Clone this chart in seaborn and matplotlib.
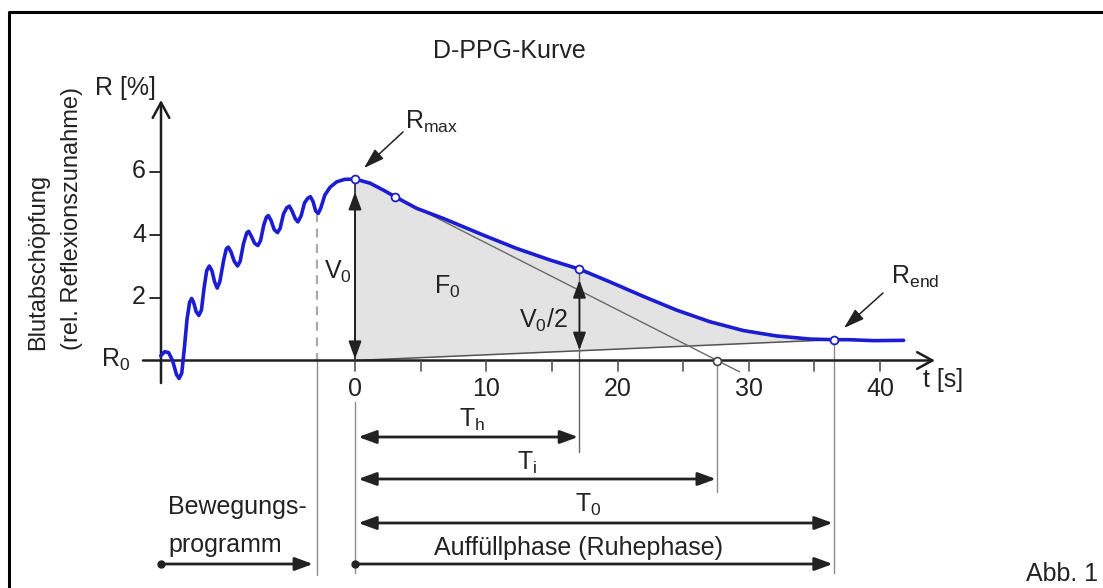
import numpy as np
import pandas as pd
import seaborn as sns
import matplotlib
matplotlib.use("Agg")
import matplotlib.pyplot as plt

# ---------------- data ----------------
t_rise = [-14.8, -14.5, -14.2, -13.9, -13.6, -13.4, -13.2, -13.0, -12.8, -12.6,
          -12.45, -12.3, -12.1, -11.9, -11.7, -11.5, -11.3, -11.1, -10.9, -10.7,
          -10.5, -10.3, -10.0, -9.8, -9.65, -9.45, -9.2, -8.95, -8.75, -8.5,
          -8.25, -8.1, -7.9, -7.65, -7.4, -7.2, -6.95, -6.75, -6.6, -6.4,
          -6.15, -5.9, -5.7, -5.45, -5.2, -5.0, -4.8, -4.55, -4.35, -4.1,
          -3.85, -3.6, -3.4, -3.2, -3.0, -2.8, -2.6, -2.3, -1.9, -1.4, -0.8]
r_rise = [0.15, 0.28, 0.25, 0.0, -0.45, -0.57, -0.4, 0.4, 1.3, 1.85,
          1.97, 1.85, 1.55, 1.43, 1.6, 2.3, 2.85, 3.0, 2.85, 2.5,
          2.3, 2.5, 3.2, 3.55, 3.6, 3.45, 3.15, 3.0, 3.15, 3.7,
          4.05, 4.1, 3.95, 3.72, 3.65, 3.8, 4.3, 4.55, 4.6, 4.45,
          4.15, 4.06, 4.2, 4.65, 4.85, 4.9, 4.75, 4.5, 4.4, 4.6,
          5.0, 5.15, 5.2, 5.05, 4.75, 4.67, 4.85, 5.25, 5.5, 5.67, 5.75]
t_decay = [0.0, 1.14, 2.16, 3.05, 4.7, 6.73, 9.78, 12.3, 14.86, 17.1, 19.4,
           22.0, 24.5, 27.05, 29.6, 32.1, 34.7, 36.5, 37.7, 39.5, 41.8]
r_decay = [5.76, 5.63, 5.41, 5.2, 4.83, 4.51, 3.98, 3.56, 3.19, 2.9, 2.5,
           2.03, 1.6, 1.23, 0.95, 0.78, 0.68, 0.66, 0.66, 0.63, 0.64]

x_ticks = [0, 10, 20, 30, 40]
x_minor = [0, 5, 10, 15, 20, 25, 30, 35, 40]
y_ticks = [2, 4, 6]

t_marks = [0.0, 3.05, 17.1, 36.5]
r_marks = [5.76, 5.2, 2.9, 0.66]
t_tangent = [3.05, 27.6]          # tangent point and its zero crossing
r_tangent = [5.2, 0.0]
t_move = [-14.8, -2.9]            # Bewegungsprogramm
T_h, T_i, T_0 = 17.1, 27.6, 36.5
R_max, R_end = 5.76, 0.66
R_dip = 4.67

# ---------------- pixel helpers (layout only) ----------------
def tx(px):
    return (px - 355) / 13.125

def ry(py):
    return (360.5 - py) / 31.5

sns.set_style("white")
plt.rcParams["font.family"] = ["Liberation Sans", "DejaVu Sans"]
plt.rcParams["mathtext.fontset"] = "custom"
plt.rcParams["mathtext.rm"] = "Liberation Sans"
plt.rcParams["mathtext.it"] = "Liberation Sans"
plt.rcParams["mathtext.bf"] = "Liberation Sans"

fig = plt.figure(figsize=(11.03, 5.88), dpi=100)
ax = fig.add_axes([0, 0, 1, 1])
ax.set_xlim(tx(0), tx(1103))
ax.set_ylim(ry(588), ry(0))
ax.axis("off")

AX = "#1e1e1e"
GREY = "#8c8c8c"
FS = 18

# border
ax.plot([9 / 1103, 9 / 1103, 1.0], [0.0, 1 - 12 / 588, 1 - 12 / 588],
        transform=ax.transAxes, color="black", lw=2.2, solid_capstyle="butt")

# data frames
curve = pd.DataFrame({"t": t_rise + t_decay, "R": r_rise + r_decay})
dec = pd.DataFrame({"t": t_decay, "R": r_decay})
dec = dec[(dec.t >= 0) & (dec.t <= T_0)]
base = dec.t * (R_end / T_0)

# fill (F0)
ax.fill_between(dec.t, base, dec.R, color="#e3e3e3", lw=0, zorder=1)
# baseline R0 -> Rend
ax.plot([0, T_0], [0, R_end], color="#555555", lw=1.1, zorder=2)
# tangent
slope = (r_tangent[1] - r_tangent[0]) / (t_tangent[1] - t_tangent[0])
t_tan_end = 29.3
ax.plot([t_tangent[0], t_tan_end],
        [r_tangent[0], r_tangent[0] + slope * (t_tan_end - t_tangent[0])],
        color="#6a6a6a", lw=1.0, zorder=2)

# axes
y_axis_t = tx(161)
ax.annotate("", xy=(tx(935), 0), xytext=(tx(143), 0),
            arrowprops=dict(arrowstyle="->,head_length=0.55,head_width=0.3",
                            color=AX, lw=1.8, shrinkA=0, shrinkB=0, mutation_scale=20),
            zorder=3)
ax.annotate("", xy=(y_axis_t, ry(100)), xytext=(y_axis_t, ry(383)),
            arrowprops=dict(arrowstyle="->,head_length=0.55,head_width=0.3",
                            color=AX, lw=1.8, shrinkA=0, shrinkB=0, mutation_scale=20),
            zorder=3)
for v in y_ticks:
    ax.plot([tx(150), y_axis_t], [v, v], color=AX, lw=1.3, zorder=3)
    ax.text(tx(146), v, str(v), ha="right", va="center", fontsize=FS, color="#222")
for v in x_minor:
    ax.plot([v, v], [0, ry(370.5)], color="#555", lw=1.2, zorder=3)
for v in x_ticks:
    ax.text(v, ry(389), str(v), ha="center", va="center", fontsize=FS, color="#222")

# vertical helper lines
ax.plot([t_move[1], t_move[1]], [R_dip, 0], color="#aaaaaa", lw=1.6,
        dashes=(4, 3), zorder=2)
ax.plot([t_move[1], t_move[1]], [0, ry(575)], color=GREY, lw=1.0, zorder=2)
ax.plot([0, 0], [ry(402), ry(573)], color=GREY, lw=1.0, zorder=2)
ax.plot([T_h, T_h], [2.9, ry(452)], color="#666", lw=1.0, zorder=2)
ax.plot([T_i, T_i], [0, ry(492)], color=GREY, lw=1.0, zorder=2)
ax.plot([T_0, T_0], [R_end, ry(573)], color=GREY, lw=1.0, zorder=2)

# curve
sns.lineplot(data=curve, x="t", y="R", sort=False, estimator=None, ax=ax,
             color="#1c1cd2", lw=2.6, zorder=5)

# markers
sns.scatterplot(x=t_marks, y=r_marks, ax=ax, s=32, color="white",
                edgecolor="#2020c0", linewidth=1.3, zorder=6)
sns.scatterplot(x=[t_tangent[1]], y=[r_tangent[1]], ax=ax, s=32, color="white",
                edgecolor="#444", linewidth=1.2, zorder=6)

HEAD2 = "<|-|>,head_length=0.6,head_width=0.22"
HEAD1 = "-|>,head_length=0.6,head_width=0.22"

def dbl(x0, y0, x1, y1, style=HEAD2, lw=2.0, col="#222"):
    ax.annotate("", xy=(x1, y1), xytext=(x0, y0),
                arrowprops=dict(arrowstyle=style, color=col, lw=lw,
                                shrinkA=0, shrinkB=0, mutation_scale=18),
                zorder=4)

# V0 and V0/2
ax.plot([0, 0], [0, R_max], color="#333", lw=1.3, zorder=3)
dbl(0, 0.05, 0, 5.35, lw=1.3)
dbl(T_h, T_h * R_end / T_0 + 0.02, T_h, 2.55, lw=1.3)

# time spans
dbl(0.25, ry(437), T_h - 0.1, ry(437))
dbl(0.25, ry(479), T_i - 0.1, ry(479))
dbl(0.25, ry(523), T_0 - 0.1, ry(523))
dbl(0, ry(564), T_0 - 0.1, ry(564), style=HEAD1)
dbl(t_move[0], ry(564), tx(313), ry(564), style=HEAD1)
ax.plot([0, t_move[0]], [ry(564), ry(564)], "o", color="#222", ms=5, zorder=5)

# Rmax / Rend pointers
dbl(tx(403), ry(132), tx(364), ry(168), style="-|>,head_length=0.7,head_width=0.22", lw=1.1)
dbl(tx(883), ry(293), tx(844), ry(328), style="-|>,head_length=0.7,head_width=0.22", lw=1.1)

# texts
txt = dict(fontsize=FS, color="#222")
ax.text(tx(509), ry(51), "D-PPG-Kurve", ha="center", va="center", **txt)
ax.text(tx(95), ry(88), "R [%]", ha="left", va="center", **txt)
ax.text(tx(38), ry(350), "Blutabschöpfung", rotation=90, rotation_mode="anchor",
        ha="left", va="center", fontsize=17, color="#222")
ax.text(tx(72), ry(350), "(rel. Reflexionszunahme)", rotation=90,
        rotation_mode="anchor", ha="left", va="center", fontsize=17, color="#222")
ax.text(tx(101), ry(360), r"R$_\mathrm{0}$", ha="left", va="center", **txt)
ax.text(tx(923), ry(380), "t [s]", ha="left", va="center", **txt)
ax.text(tx(405), ry(122), r"R$_\mathrm{max}$", ha="left", va="center", **txt)
ax.text(tx(891), ry(277), r"R$_\mathrm{end}$", ha="left", va="center", **txt)
ax.text(tx(352), ry(272), r"V$_\mathrm{0}$", ha="right", va="center", **txt)
ax.text(tx(447), ry(287), r"F$_\mathrm{0}$", ha="center", va="center", **txt)
ax.text(tx(568), ry(320), r"V$_\mathrm{0}$/2", ha="right", va="center", **txt)
ax.text(tx(472), ry(420), r"T$_\mathrm{h}$", ha="center", va="center", **txt)
ax.text(tx(527), ry(463), r"T$_\mathrm{i}$", ha="center", va="center", **txt)
ax.text(tx(588), ry(505), r"T$_\mathrm{0}$", ha="center", va="center", **txt)
ax.text(tx(168), ry(507), "Bewegungs-", ha="left", va="center", **txt)
ax.text(tx(168), ry(545), "programm", ha="left", va="center", **txt)
ax.text(tx(579), ry(548), "Auffüllphase (Ruhephase)", ha="center", va="center", **txt)
ax.text(tx(1098), ry(574), "Abb. 1", ha="right", va="center", **txt)

fig.savefig("out.png", dpi=100)
